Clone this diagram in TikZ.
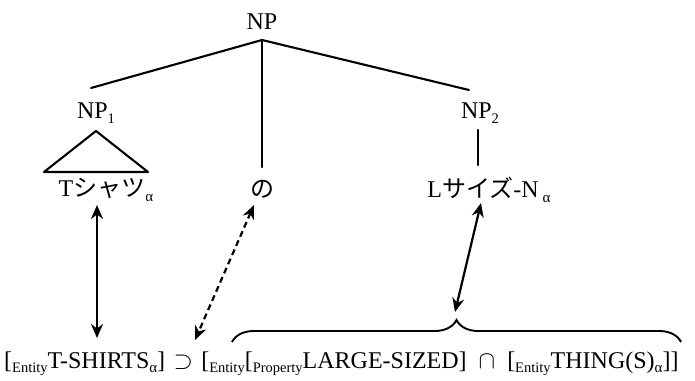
\documentclass[tikz,border=0pt]{standalone}
\usepackage{fontspec}
\setmainfont{Liberation Serif}
\newfontfamily\jpfont{Noto Sans CJK JP}
\usetikzlibrary{arrows.meta,decorations.pathreplacing}
\newcommand{\sbx}[1]{\raisebox{-0.45ex}{\fontsize{14.5}{14.5}\selectfont #1}}
\newcommand{\alsub}{\raisebox{-0.45ex}{\fontsize{15}{15}\selectfont α}}
\begin{document}
\begin{tikzpicture}[x=1pt,y=-1pt,
  txt/.style={font=\fontsize{24}{26}\selectfont, inner sep=0pt},
  treeline/.style={line width=2.1pt, line cap=round},
  dbl/.style={line width=2.2pt, {Stealth[length=14pt,width=12pt]}-{Stealth[length=14pt,width=12pt]}},
  ]
\useasboundingbox (0,0) rectangle (695,380);
% tree nodes
\node[txt] (np) at (262,22) {NP};
\node[txt] (np1) at (96,113) {NP\sbx{1}};
\node[txt] (np2) at (480,113) {NP\sbx{2}};
\node[txt] (ts) at (106,190) {T{\jpfont シャツ}\alsub};
\node[txt] (no) at (262,189) {{\jpfont の}};
\node[txt] (ls) at (489,190) {L{\jpfont サイズ}-N\,\alsub};
% tree lines
\coordinate (apex) at (262,40);
\coordinate (l1) at (91,88);
\coordinate (r1) at (469,90);
\coordinate (m1) at (262,167);
\draw[treeline] (l1) -- (apex) -- (r1);
\draw[treeline] (apex) -- (m1);
\coordinate (n2a) at (478,130);
\coordinate (n2b) at (478,165);
\draw[treeline] (n2a) -- (n2b);
\coordinate (ta) at (96,131);
\coordinate (tl) at (44,172);
\coordinate (tr) at (148,172);
\draw[treeline, line join=round] (ta) -- (tl) -- (tr) -- cycle;
% bottom formula
\node[txt, anchor=base west] (lhs) at (4,368) {[\sbx{Entity}T-SHIRTS\alsub]};
\node[txt, anchor=base west] (sup) at ([xshift=8pt]lhs.base east) {$\supset$};
\node[txt, anchor=base west] (rhs) at ([xshift=8pt]sup.base east) {[\sbx{Entity}[\sbx{Property}LARGE-SIZED]\ \ $\cap$\ \ [\sbx{Entity}THING(S)\alsub]]};
% brace
\coordinate (bL) at (232,342);
\coordinate (bR) at (681,342);
\draw[line width=1.9pt, decorate, decoration={brace, amplitude=22pt}] (bL) -- (bR);
\coordinate (btip) at (455,312);
% arrows
\coordinate (a1t) at (97,205);
\coordinate (a1b) at (97,338);
\draw[dbl] (a1t) -- (a1b);
\coordinate (a2t) at (254,205);
\coordinate (a2b) at (195,340);
\draw[dbl, dashed, dash pattern=on 6pt off 4pt] (a2t) -- (a2b);
\coordinate (a3t) at (481,203);
\draw[dbl] (a3t) -- (btip);
\end{tikzpicture}
\end{document}
